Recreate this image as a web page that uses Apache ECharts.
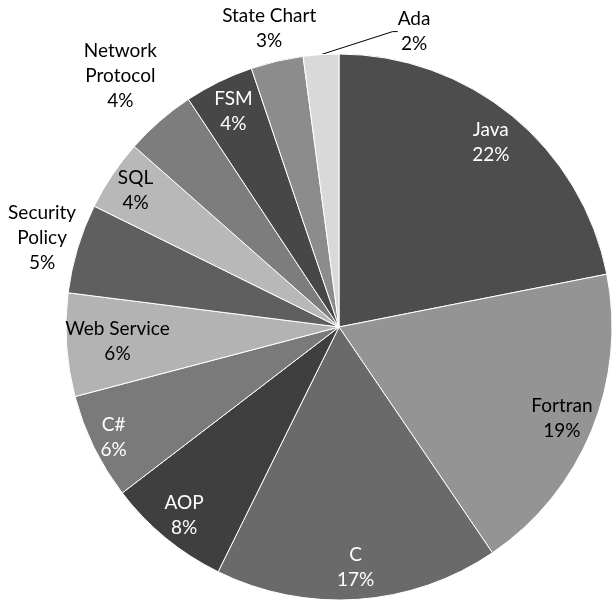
<!DOCTYPE html>
<html>
<head>
<meta charset="utf-8">
<script src="https://cdn.jsdelivr.net/npm/echarts@6/dist/echarts.min.js"></script>
<style>
  html, body { margin: 0; padding: 0; background: #fff; }
  #chart { width: 614px; height: 600px; }
</style>
</head>
<body>
<div id="chart"></div>
<script>
const languages = ["Java", "Fortran", "C", "AOP", "C#", "Web Service", "Security Policy", "SQL", "Network Protocol", "FSM", "State Chart", "Ada"];
// slice sizes as drawn
const shares = [21.9, 18.6, 16.8, 7.3, 6.3, 6.1, 5.3, 4.2, 4.2, 4.1, 3.1, 2.1];
// percentages as printed on the labels
const percentLabels = ["22%", "19%", "17%", "8%", "6%", "6%", "5%", "4%", "4%", "4%", "3%", "2%"];
const sliceColors = ["#4d4d4d", "#949494", "#6a6a6a", "#3f3f3f", "#7a7a7a", "#b3b3b3", "#5f5f5f", "#b8b8b8", "#7d7d7d", "#474747", "#8c8c8c", "#d9d9d9"];
const labelColors = ["#fff", "#000", "#fff", "#fff", "#fff", "#000", "#000", "#000", "#000", "#fff", "#000", "#000"];
// distance of each label centre from the pie centre; null = label pulled aside with a leader line
const labelRadius = [236, 238, 238, 241, 248, 219, 307, 242, 330, 237, 304, null];
const wrapped = ["Security Policy", "Network Protocol"];

let chartDom = document.getElementById("chart");
let myChart = echarts.init(chartDom);

const center = [339, 327];
const R = 273;
const font = {
  fontFamily: "Lato",
  fontSize: 19,
  lineHeight: 25,
};

function labelText(params) {
  let name = params.name;
  if (wrapped.indexOf(name) >= 0) name = name.replace(" ", "\n");
  return name + "\n" + percentLabels[params.dataIndex];
}

// transparent pie, only used to put one centred label at a given distance
function labelRing(index) {
  const d = labelRadius[index];
  return {
    type: "pie",
    center: center,
    radius: [d - 20, d + 20],
    startAngle: 90,
    silent: true,
    animation: false,
    itemStyle: { color: "transparent", borderWidth: 0 },
    label: Object.assign({ position: "inside", formatter: labelText }, font),
    labelLine: { show: false },
    data: languages.map(function (name, i) {
      return {
        name: name,
        value: shares[i],
        label: { show: i === index, color: labelColors[i] },
      };
    }),
  };
}

const series = [
  {
    type: "pie",
    center: center,
    radius: R,
    startAngle: 90,
    animation: false,
    itemStyle: { borderColor: "#fff", borderWidth: 1 },
    label: Object.assign({ show: false, position: "outside", formatter: labelText, color: "#000" }, font),
    labelLine: { show: false, length: 8, length2: 5, lineStyle: { color: "#000", width: 1 } },
    labelLayout: function (params) {
      if (labelRadius[params.dataIndex] === null && params.labelLinePoints) {
        const edge = params.labelLinePoints[0];
        return { x: edge[0] + 93, y: edge[1] - 23, align: "center", verticalAlign: "middle" };
      }
    },
    data: languages.map(function (name, i) {
      const side = labelRadius[i] === null;
      return {
        name: name,
        value: shares[i],
        itemStyle: { color: sliceColors[i] },
        label: { show: side },
        labelLine: { show: side },
      };
    }),
  },
];

languages.forEach(function (name, i) {
  if (labelRadius[i] !== null) series.push(labelRing(i));
});

const option = {
  animation: false,
  series: series,
};

option && myChart.setOption(option);
</script>
</body>
</html>
